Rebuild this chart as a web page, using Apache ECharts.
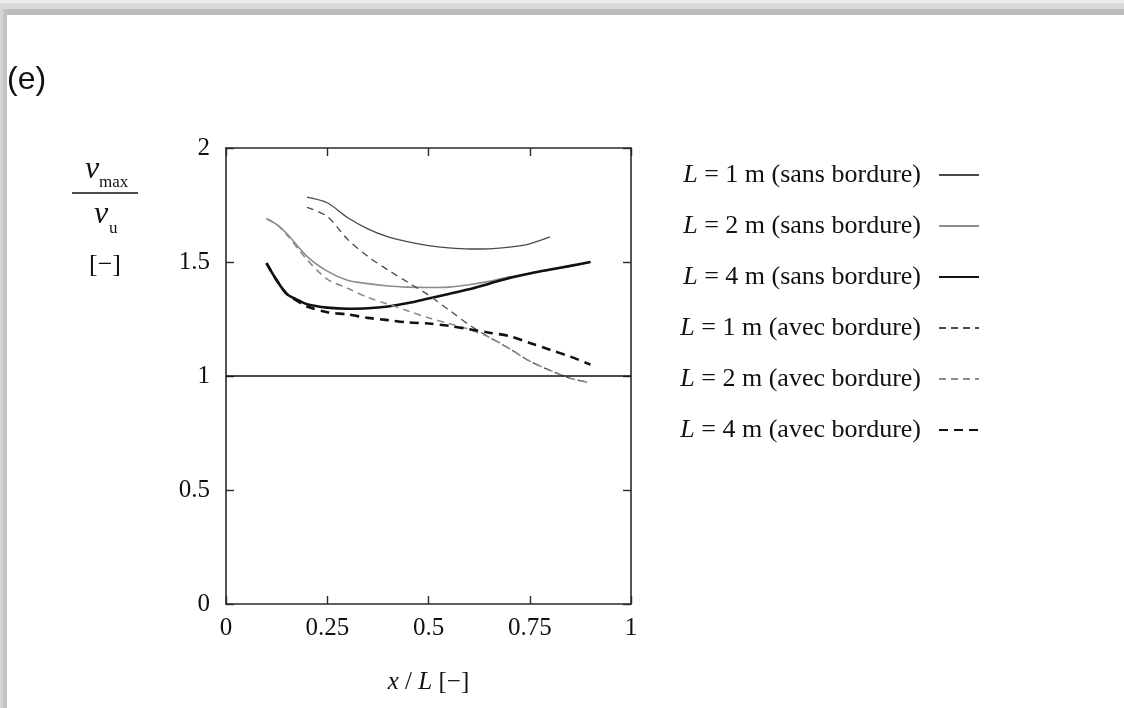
<!DOCTYPE html>
<html>
<head>
<meta charset="utf-8">
<title>vmax / vu</title>
<script src="https://cdn.jsdelivr.net/npm/echarts@6/dist/echarts.min.js"></script>
<style>
    html, body { margin: 0; padding: 0; background: #fff; }
    #chart { width: 1124px; height: 708px; }
</style>
</head>
<body>
<div id="chart"></div>
<script>
    // x / L positions and v_max / v_u values
    var xSans1 = [0.2, 0.25, 0.3, 0.35, 0.4, 0.45, 0.5, 0.55, 0.6, 0.65, 0.7, 0.75, 0.8];
    var ySans1 = [1.785, 1.76, 1.695, 1.645, 1.61, 1.588, 1.572, 1.562, 1.557, 1.558, 1.565, 1.58, 1.61];

    var xSans2 = [0.1, 0.125, 0.15, 0.2, 0.25, 0.3, 0.35, 0.4, 0.45, 0.5, 0.55, 0.6, 0.65, 0.7, 0.75, 0.8, 0.85, 0.9];
    var ySans2 = [1.69, 1.665, 1.625, 1.525, 1.46, 1.42, 1.405, 1.395, 1.39, 1.388, 1.39, 1.40, 1.415, 1.435, 1.45, 1.465, 1.482, 1.50];

    var xSans4 = [0.1, 0.125, 0.15, 0.175, 0.2, 0.25, 0.3, 0.35, 0.4, 0.45, 0.5, 0.55, 0.6, 0.65, 0.7, 0.75, 0.8, 0.85, 0.9];
    var ySans4 = [1.495, 1.42, 1.36, 1.335, 1.315, 1.30, 1.295, 1.297, 1.305, 1.32, 1.34, 1.36, 1.38, 1.405, 1.43, 1.45, 1.467, 1.483, 1.50];

    var xAvec1 = [0.2, 0.25, 0.3, 0.35, 0.4, 0.45, 0.5, 0.55, 0.6, 0.65, 0.7, 0.75, 0.8, 0.85, 0.89];
    var yAvec1 = [1.74, 1.70, 1.60, 1.525, 1.465, 1.41, 1.355, 1.29, 1.225, 1.17, 1.12, 1.065, 1.025, 0.99, 0.975];

    var xAvec2 = [0.1, 0.125, 0.15, 0.2, 0.25, 0.3, 0.35, 0.4, 0.45, 0.5, 0.55, 0.6, 0.65, 0.7, 0.75, 0.8, 0.85, 0.9];
    var yAvec2 = [1.69, 1.665, 1.62, 1.51, 1.425, 1.385, 1.345, 1.315, 1.285, 1.255, 1.23, 1.205, 1.17, 1.12, 1.065, 1.025, 0.99, 0.97];

    var xAvec4 = [0.1, 0.125, 0.15, 0.175, 0.2, 0.25, 0.3, 0.35, 0.4, 0.45, 0.5, 0.55, 0.6, 0.65, 0.7, 0.75, 0.8, 0.85, 0.9];
    var yAvec4 = [1.495, 1.42, 1.36, 1.33, 1.305, 1.28, 1.27, 1.255, 1.245, 1.235, 1.23, 1.22, 1.205, 1.19, 1.175, 1.145, 1.115, 1.085, 1.05];

    var seriesNames = [
        'L = 1 m (sans bordure)', 'L = 2 m (sans bordure)', 'L = 4 m (sans bordure)',
        'L = 1 m (avec bordure)', 'L = 2 m (avec bordure)', 'L = 4 m (avec bordure)'
    ];
    var xTicks = ['0', '0.25', '0.5', '0.75', '1'];
    var yTicks = ['0', '0.5', '1', '1.5', '2'];

    function pairs(xs, ys) {
        var out = [];
        for (var i = 0; i < xs.length; i++) out.push([xs[i], ys[i]]);
        return out;
    }

    var serif = '"Liberation Serif", "DejaVu Serif", serif';
    var frameColor = '#2a2a2a';

    var chart = echarts.init(document.getElementById('chart'), null, {renderer: 'canvas'});

    function lineSeries(name, data, color, width, dash) {
        return {
            name: name,
            type: 'line',
            data: data,
            xAxisIndex: 0,
            yAxisIndex: 0,
            showSymbol: false,
            symbol: 'none',
            smooth: 0.3,
            animation: false,
            lineStyle: {color: color, width: width, type: dash || 'solid'},
            itemStyle: {color: color}
        };
    }

    var series = [
        lineSeries(seriesNames[0], pairs(xSans1, ySans1), '#4a4a4a', 1.3),
        lineSeries(seriesNames[1], pairs(xSans2, ySans2), '#8c8c8c', 1.6),
        lineSeries(seriesNames[2], pairs(xSans4, ySans4), '#111111', 2.6),
        lineSeries(seriesNames[3], pairs(xAvec1, yAvec1), '#4a4a4a', 1.3, [7, 5]),
        lineSeries(seriesNames[4], pairs(xAvec2, yAvec2), '#8c8c8c', 1.6, [7, 5]),
        lineSeries(seriesNames[5], pairs(xAvec4, yAvec4), '#111111', 2.6, [9, 6])
    ];
    // horizontal reference at v_max / v_u = 1
    series[0].markLine = {
        silent: true,
        symbol: ['none', 'none'],
        label: {show: false},
        lineStyle: {color: '#111', width: 1.5, type: 'solid'},
        data: [{yAxis: 1}]
    };

    function frameAxis(extra) {
        var ax = {
            type: 'value',
            axisLine: {show: true, onZero: false, lineStyle: {color: frameColor, width: 1.6}},
            axisTick: {show: true, inside: true, length: 8, lineStyle: {color: frameColor, width: 1.4}},
            axisLabel: {show: false},
            splitLine: {show: false}
        };
        for (var k in extra) ax[k] = extra[k];
        return ax;
    }

    var option = {
        backgroundColor: '#ffffff',
        animation: false,
        grid: {left: 226, right: 493, top: 148, bottom: 104, containLabel: false},
        legend: {
            orient: 'vertical',
            align: 'right',
            right: 139,
            top: 157,
            itemWidth: 40,
            itemHeight: 14,
            itemGap: 25,
            data: seriesNames,
            // hide the round marker, keep only the line sample
            itemStyle: {color: 'rgba(0,0,0,0)', borderWidth: 0, opacity: 0},
            formatter: function (name) {
                return '{i|L}' + name.substring(1) + '\u00a0\u00a0';
            },
            textStyle: {
                fontFamily: serif,
                fontSize: 26,
                color: '#111',
                rich: {
                    i: {fontFamily: serif, fontStyle: 'italic', fontSize: 26, color: '#111'}
                }
            }
        },
        xAxis: [frameAxis({
            position: 'bottom',
            min: 0, max: 1, interval: 0.25,
            name: '{i|x} / {i|L} [−]',
            nameLocation: 'middle',
            nameGap: 66,
            nameTextStyle: {
                fontFamily: serif, fontSize: 25, color: '#111',
                rich: {i: {fontFamily: serif, fontStyle: 'italic', fontSize: 25, color: '#111'}}
            },
            axisLabel: {
                show: true, margin: 12, fontFamily: serif, fontSize: 25, color: '#111',
                formatter: function (v) { return xTicks[Math.round(v * 4)]; }
            }
        }), frameAxis({
            position: 'top',
            min: 0, max: 1, interval: 0.25
        })],
        yAxis: [frameAxis({
            position: 'left',
            min: 0, max: 2, interval: 0.5,
            axisLabel: {
                show: true, margin: 16, fontFamily: serif, fontSize: 25, color: '#111',
                formatter: function (v) { return yTicks[Math.round(v * 2)]; }
            }
        }), frameAxis({
            position: 'right',
            min: 0, max: 2, interval: 0.5
        })],
        graphic: [
            // page shadow along the top and left edges
            {type: 'rect', left: 0, top: 0, shape: {width: 1124, height: 3}, style: {fill: '#ececec'}, silent: true},
            {type: 'rect', left: 0, top: 3, shape: {width: 1124, height: 6}, style: {fill: '#dadada'}, silent: true},
            {type: 'rect', left: 0, top: 9, shape: {width: 1124, height: 6}, style: {fill: '#bcbcbc'}, silent: true},
            {type: 'rect', left: 0, top: 9, shape: {width: 3, height: 699}, style: {fill: '#d4d4d4'}, silent: true},
            {type: 'rect', left: 3, top: 9, shape: {width: 4, height: 699}, style: {fill: '#c2c2c2'}, silent: true},
            // panel label
            {type: 'text', left: 7, top: 64, style: {text: '(e)', font: '32px "Liberation Sans", sans-serif', fill: '#111'}},
            // y axis label: v_max / v_u [−]
            {type: 'text', left: 85, top: 154, style: {text: 'v', font: 'italic 32px ' + serif, fill: '#111'}},
            {type: 'text', left: 99, top: 174, style: {text: 'max', font: '17px ' + serif, fill: '#111'}},
            {type: 'line', shape: {x1: 72, y1: 193, x2: 138, y2: 193}, style: {stroke: '#111', lineWidth: 1.6}},
            {type: 'text', left: 94, top: 199, style: {text: 'v', font: 'italic 32px ' + serif, fill: '#111'}},
            {type: 'text', left: 109, top: 220, style: {text: 'u', font: '17px ' + serif, fill: '#111'}},
            {type: 'text', left: 89, top: 252, style: {text: '[−]', font: '26px ' + serif, fill: '#111'}}
        ],
        series: series
    };

    chart.setOption(option);
</script>
</body>
</html>
